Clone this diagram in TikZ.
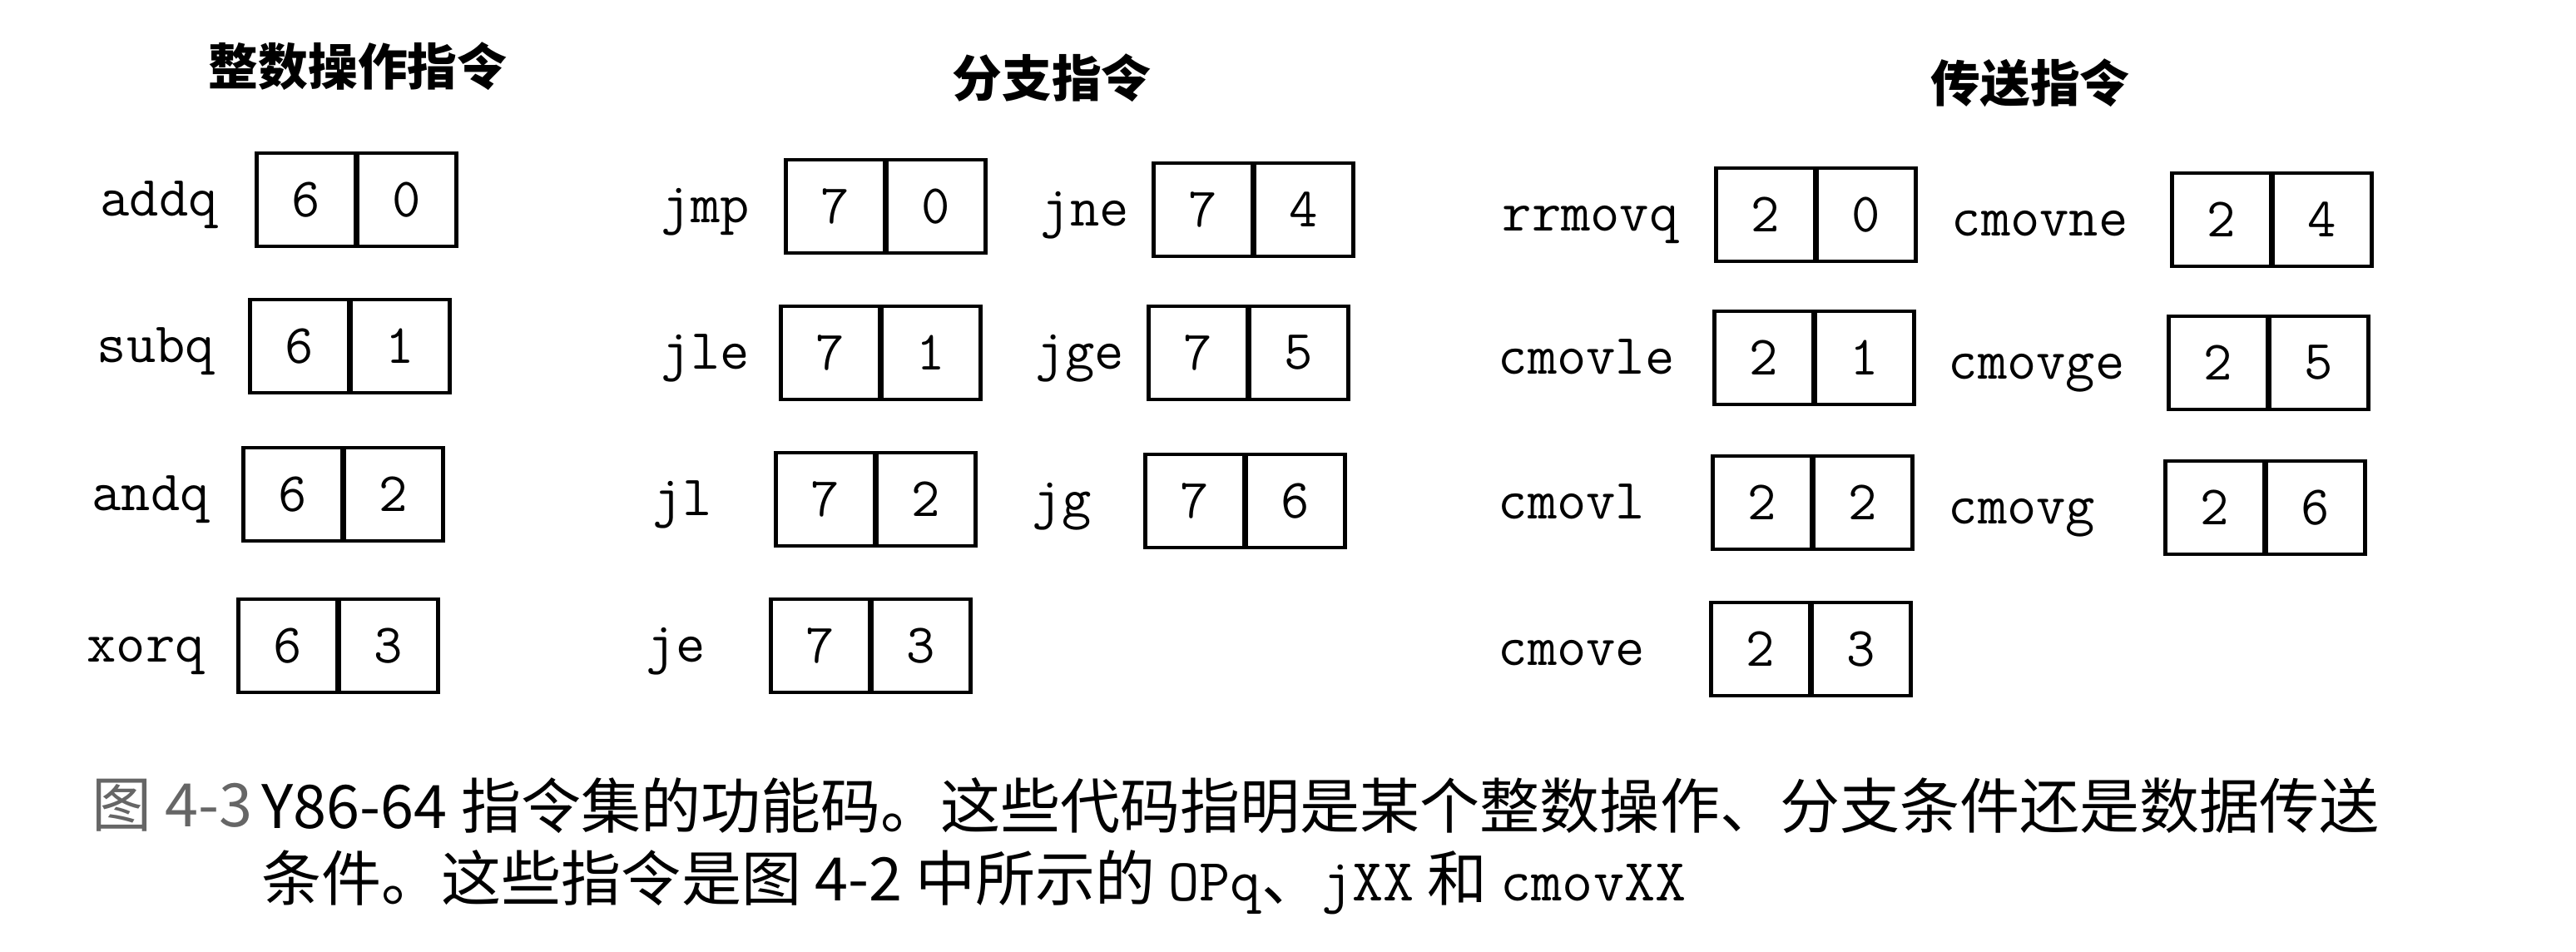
\documentclass[tikz,border=0pt]{standalone}
\usepackage{fontspec}
\newfontfamily\cjk{Noto Sans CJK SC}
\tikzset{
  cell/.style={draw,line width=1.3pt,minimum width=1.19cm,minimum height=1.12cm,inner sep=0pt,
    font=\fontsize{19}{19}\selectfont\ttfamily},
  lbl/.style={anchor=base west,inner sep=0pt,font=\fontsize{19.5}{19.5}\selectfont\ttfamily},
  head/.style={font=\fontsize{17}{17}\selectfont\cjk\bfseries},
  capt/.style={anchor=west,inner sep=0pt,font=\fontsize{20.5}{20.5}\selectfont\cjk}
}
\begin{document}
\begin{tikzpicture}
  \useasboundingbox[fill=white] (0,0) rectangle (30.96,-11.44);

  % column heads
  \node[head] (hint) at (4.3,-0.8) {整数操作指令};
  \node[head] (hjmp) at (12.64,-0.94) {分支指令};
  \node[head] (hmov) at (24.4,-1.0) {传送指令};

  % function codes
  \foreach \nm/\x/\bx/\y/\a/\b in {
      addq/1.2/3.06/-2.4/6/0, subq/1.16/2.98/-4.16/6/1, andq/1.1/2.9/-5.94/6/2, xorq/1.04/2.84/-7.76/6/3,
      jmp/7.94/9.42/-2.48/7/0, jle/7.94/9.36/-4.24/7/1, jl/7.84/9.3/-6.0/7/2, je/7.76/9.24/-7.76/7/3,
      jne/12.5/13.84/-2.52/7/4, jge/12.44/13.78/-4.24/7/5, jg/12.4/13.74/-6.02/7/6,
      rrmovq/18.05/20.6/-2.58/2/0, cmovle/18.0/20.58/-4.3/2/1, cmovl/18.0/20.56/-6.04/2/2, cmove/18.0/20.54/-7.8/2/3,
      cmovne/23.45/26.08/-2.64/2/4, cmovge/23.41/26.04/-4.36/2/5, cmovg/23.41/26.0/-6.1/2/6}
  {
    \node[lbl] (\nm) at (\x,\y-0.2) {\nm};
    \node[cell,anchor=west] (\nm-a) at (\bx,\y) {\a};
    \node[cell,anchor=west] (\nm-b) at ([xshift=-0.65pt]\nm-a.east) {\b};
  }

  % caption
  \node[capt,text=black!60] (fignum) at (1.1,-9.68) {图 4-3};
  \node[capt] (cap1) at (3.14,-9.68) {Y86-64 指令集的功能码。这些代码指明是某个整数操作、分支条件还是数据传送};
  \node[capt] (cap2) at (3.14,-10.6) {条件。这些指令是图 4-2 中所示的 {\ttfamily OPq}、{\ttfamily jXX} 和 {\ttfamily cmovXX}};
\end{tikzpicture}
\end{document}
